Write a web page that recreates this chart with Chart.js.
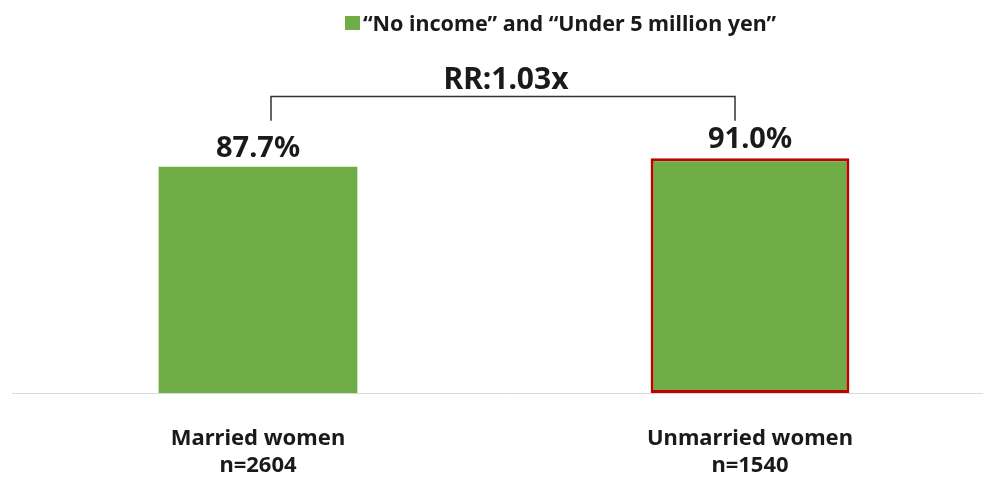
<!DOCTYPE html>
<html>
<head>
<meta charset="utf-8">
<script src="https://cdn.jsdelivr.net/npm/chart.js@4/dist/chart.umd.min.js"></script>
<style>
  html, body { margin: 0; padding: 0; background: #fff; overflow: hidden; }
  canvas { display: block; }
</style>
</head>
<body>
<canvas id="graficoIngresos" width="996" height="479"></canvas>
<script>
const grupos = ["Married women", "Unmarried women"];
const muestras = ["n=2604", "n=1540"];
const porcentajes = [87.7, 91.0];
const serieNombre = "\u201cNo income\u201d and \u201cUnder 5 million yen\u201d";
const razonTexto = "RR:1.03x";

const verde = "#70ad47";
const rojo = "#c00000";
const texto = "#1a1a1a";
const fuente = "'Noto Sans', 'DejaVu Sans', sans-serif";

// etiquetas de valor, corchete RR y leyenda
const anotaciones = {
  id: "anotaciones",
  afterDatasetsDraw(chart) {
    const ctx = chart.ctx;
    const meta = chart.getDatasetMeta(0);
    const y = chart.scales.y;
    ctx.save();
    ctx.fillStyle = texto;
    ctx.textAlign = "center";
    ctx.textBaseline = "alphabetic";
    ctx.font = "bold 29px " + fuente;
    meta.data.forEach((bar, i) => {
      ctx.fillText(porcentajes[i].toFixed(1) + "%", bar.x, bar.y - 10);
    });

    // corchete entre las dos barras
    const x1 = meta.data[0].x + 13;
    const x2 = meta.data[1].x - 15;
    const yTop = Math.round(y.getPixelForValue(115)) + 0.5;
    const yPie = y.getPixelForValue(105.5);
    ctx.strokeStyle = "#333";
    ctx.lineWidth = 1.5;
    ctx.beginPath();
    ctx.moveTo(x1, yPie);
    ctx.lineTo(x1, yTop);
    ctx.lineTo(x2, yTop);
    ctx.lineTo(x2, yPie);
    ctx.stroke();
    ctx.font = "bold 30px " + fuente;
    ctx.fillText(razonTexto, (x1 + x2) / 2 + 3, y.getPixelForValue(117.7));

    // leyenda
    ctx.font = "bold 21.5px " + fuente;
    ctx.textAlign = "left";
    ctx.fillStyle = verde;
    ctx.fillRect(345, 16, 15, 14);
    ctx.fillStyle = texto;
    ctx.fillText(serieNombre, 363, 31);
    ctx.restore();
  },
};

new Chart(document.querySelector("#graficoIngresos"), {
  type: "bar",
  data: {
    labels: grupos.map((g, i) => [g, muestras[i]]),
    datasets: [
      {
        label: serieNombre,
        data: porcentajes,
        backgroundColor: verde,
        borderColor: [verde, rojo],
        borderWidth: [0, 3],
        borderSkipped: false,
        barPercentage: 0.404,
        categoryPercentage: 1,
      },
    ],
  },
  options: {
    responsive: false,
    animation: false,
    devicePixelRatio: 1,
    layout: { padding: { top: 135, left: 12, right: 0, bottom: 0 } },
    plugins: { legend: { display: false }, tooltip: { enabled: false } },
    scales: {
      x: {
        afterFit: (scale) => { scale.height = 86; },
        grid: { display: false, drawTicks: false },
        border: { display: true, color: "#d9d9d9", width: 1 },
        ticks: {
          padding: 32,
          color: texto,
          font: { family: fuente, size: 22, weight: "bold", lineHeight: 1.23 },
        },
      },
      y: { display: false, min: 0, max: 100 },
    },
  },
  plugins: [anotaciones],
});
</script>
</body>
</html>
